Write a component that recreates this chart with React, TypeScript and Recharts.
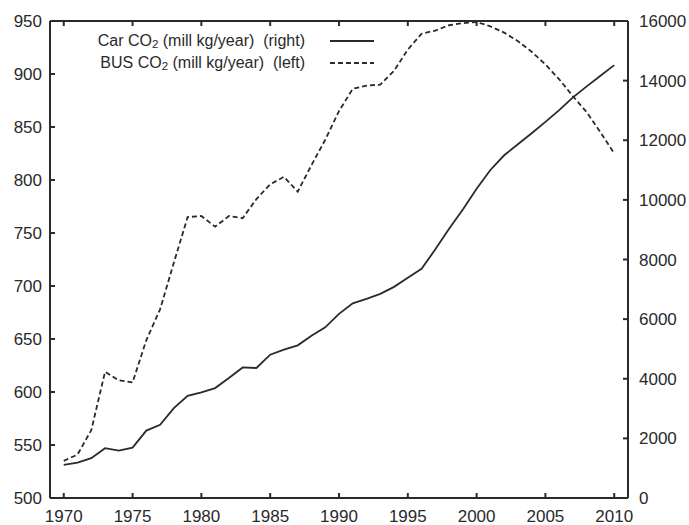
import { ComposedChart, Line, XAxis, YAxis } from "recharts";

const years = [
  1970, 1971, 1972, 1973, 1974, 1975, 1976, 1977, 1978, 1979, 1980, 1981, 1982,
  1983, 1984, 1985, 1986, 1987, 1988, 1989, 1990, 1991, 1992, 1993, 1994, 1995,
  1996, 1997, 1998, 1999, 2000, 2001, 2002, 2003, 2004, 2005, 2006, 2007, 2008,
  2009, 2010,
];

// right axis, mill kg/year
const carCo2 = [
  1109, 1190, 1334, 1670, 1590, 1690, 2262, 2454, 3015, 3429, 3540, 3687, 4024,
  4380, 4360, 4807, 4975, 5120, 5445, 5725, 6175, 6530, 6680, 6846, 7082, 7385,
  7687, 8340, 9032, 9680, 10376, 11002, 11496, 11866, 12235, 12616, 13009,
  13438, 13808, 14165, 14521,
];

// left axis, mill kg/year
const busCo2 = [
  535, 541, 564, 619, 611, 609, 649, 678, 722, 765, 766, 756, 766, 764, 782,
  796, 803, 789, 814, 838, 865, 886, 889, 890, 903, 923, 938, 941, 946, 948,
  949, 945, 939, 931, 921, 909, 895, 879, 864, 845, 825,
];

const yearTicks = [1970, 1975, 1980, 1985, 1990, 1995, 2000, 2005, 2010];
const leftTicks = [500, 550, 600, 650, 700, 750, 800, 850, 900, 950];
const rightTicks = [
  0, 2000, 4000, 6000, 8000, 10000, 12000, 14000, 16000,
];

const data = years.map((year, i) => ({
  year,
  car: carCo2[i],
  bus: busCo2[i],
}));

const INK = "#2a2a2a";
const FONT = "'Liberation Sans', Arial, Helvetica, sans-serif";
const FS = 17;
const TICK = 5; // inward tick length, gnuplot style
const GAP_BOTTOM = 12;
const GAP_LEFT = 8;
const GAP_RIGHT = 11;

// ticks drawn by hand so they point into the plot
function BottomTick(props: any) {
  const { x, y, payload } = props;
  const axisY = y - GAP_BOTTOM;
  return (
    <g>
      <line x1={x} x2={x} y1={axisY} y2={axisY - TICK} stroke={INK} strokeWidth={2} />
      <text x={x} y={y} dy="0.71em" textAnchor="middle" fill={INK} fontSize={FS} fontFamily={FONT}>
        {String(payload.value)}
      </text>
    </g>
  );
}

function TopTick(props: any) {
  const { x, y } = props;
  return <line x1={x} x2={x} y1={y} y2={y + TICK} stroke={INK} strokeWidth={2} />;
}

function LeftTick(props: any) {
  const { x, y, payload } = props;
  const axisX = x + GAP_LEFT;
  return (
    <g>
      <line x1={axisX} x2={axisX + TICK} y1={y} y2={y} stroke={INK} strokeWidth={2} />
      <text x={x} y={y} dy="0.36em" textAnchor="end" fill={INK} fontSize={FS} fontFamily={FONT}>
        {String(payload.value)}
      </text>
    </g>
  );
}

function RightTick(props: any) {
  const { x, y, payload } = props;
  const axisX = x - GAP_RIGHT;
  return (
    <g>
      <line x1={axisX} x2={axisX - TICK} y1={y} y2={y} stroke={INK} strokeWidth={2} />
      <text x={x} y={y} dy="0.36em" textAnchor="start" fill={INK} fontSize={FS} fontFamily={FONT}>
        {String(payload.value)}
      </text>
    </g>
  );
}

function LegendBox() {
  const rows = [
    { label: "Car", side: "(right)", dash: undefined },
    { label: "BUS", side: "(left)", dash: "5 3" },
  ];
  return (
    <div
      style={{
        position: "absolute",
        left: 89,
        top: 30,
        fontFamily: FONT,
        fontSize: 16,
        color: INK,
      }}
    >
      {rows.map((r) => (
        <div
          key={r.label}
          style={{ display: "flex", alignItems: "center", height: 22 }}
        >
          <span
            style={{ width: 216, textAlign: "right", whiteSpace: "pre" }}
          >
            {r.label} CO
            <sub style={{ fontSize: "0.72em", verticalAlign: "-0.2em" }}>
              2
            </sub>
            {` (mill kg/year)  ${r.side}`}
          </span>
          <svg width={72} height={10} style={{ marginLeft: 25 }}>
            <line
              x1={0}
              x2={44}
              y1={5}
              y2={5}
              stroke={INK}
              strokeWidth={1.8}
              strokeDasharray={r.dash}
            />
          </svg>
        </div>
      ))}
    </div>
  );
}

export default function App() {
  return (
    <div style={{ position: "absolute", left: 0, top: 0 }}>
      <ComposedChart
        width={689}
        height={525}
        data={data}
        margin={{ top: 0, right: 0, bottom: 0, left: 0 }}
      >
        <XAxis
          dataKey="year"
          type="number"
          domain={[1969, 2011]}
          ticks={yearTicks}
          height={27}
          tickSize={0}
          tickMargin={GAP_BOTTOM}
          tickLine={false}
          tick={<BottomTick />}
          stroke={INK}
          strokeWidth={2}
          interval={0}
        />
        <XAxis
          xAxisId="top"
          dataKey="year"
          type="number"
          orientation="top"
          domain={[1969, 2011]}
          ticks={yearTicks}
          height={21}
          tickSize={0}
          tickMargin={0}
          tickLine={false}
          tick={<TopTick />}
          stroke={INK}
          strokeWidth={2}
          interval={0}
        />
        <YAxis
          yAxisId="left"
          domain={[500, 950]}
          ticks={leftTicks}
          width={50}
          tickSize={0}
          tickMargin={GAP_LEFT}
          tickLine={false}
          tick={<LeftTick />}
          stroke={INK}
          strokeWidth={2}
          interval={0}
        />
        <YAxis
          yAxisId="right"
          orientation="right"
          domain={[0, 16000]}
          ticks={rightTicks}
          width={61}
          tickSize={0}
          tickMargin={GAP_RIGHT}
          tickLine={false}
          tick={<RightTick />}
          stroke={INK}
          strokeWidth={2}
          interval={0}
        />
        <Line
          yAxisId="right"
          dataKey="car"
          type="linear"
          stroke={INK}
          strokeWidth={1.8}
          dot={false}
          isAnimationActive={false}
        />
        <Line
          yAxisId="left"
          dataKey="bus"
          type="linear"
          stroke={INK}
          strokeWidth={1.8}
          strokeDasharray="5 3"
          dot={false}
          isAnimationActive={false}
        />
      </ComposedChart>
      <LegendBox />
    </div>
  );
}
